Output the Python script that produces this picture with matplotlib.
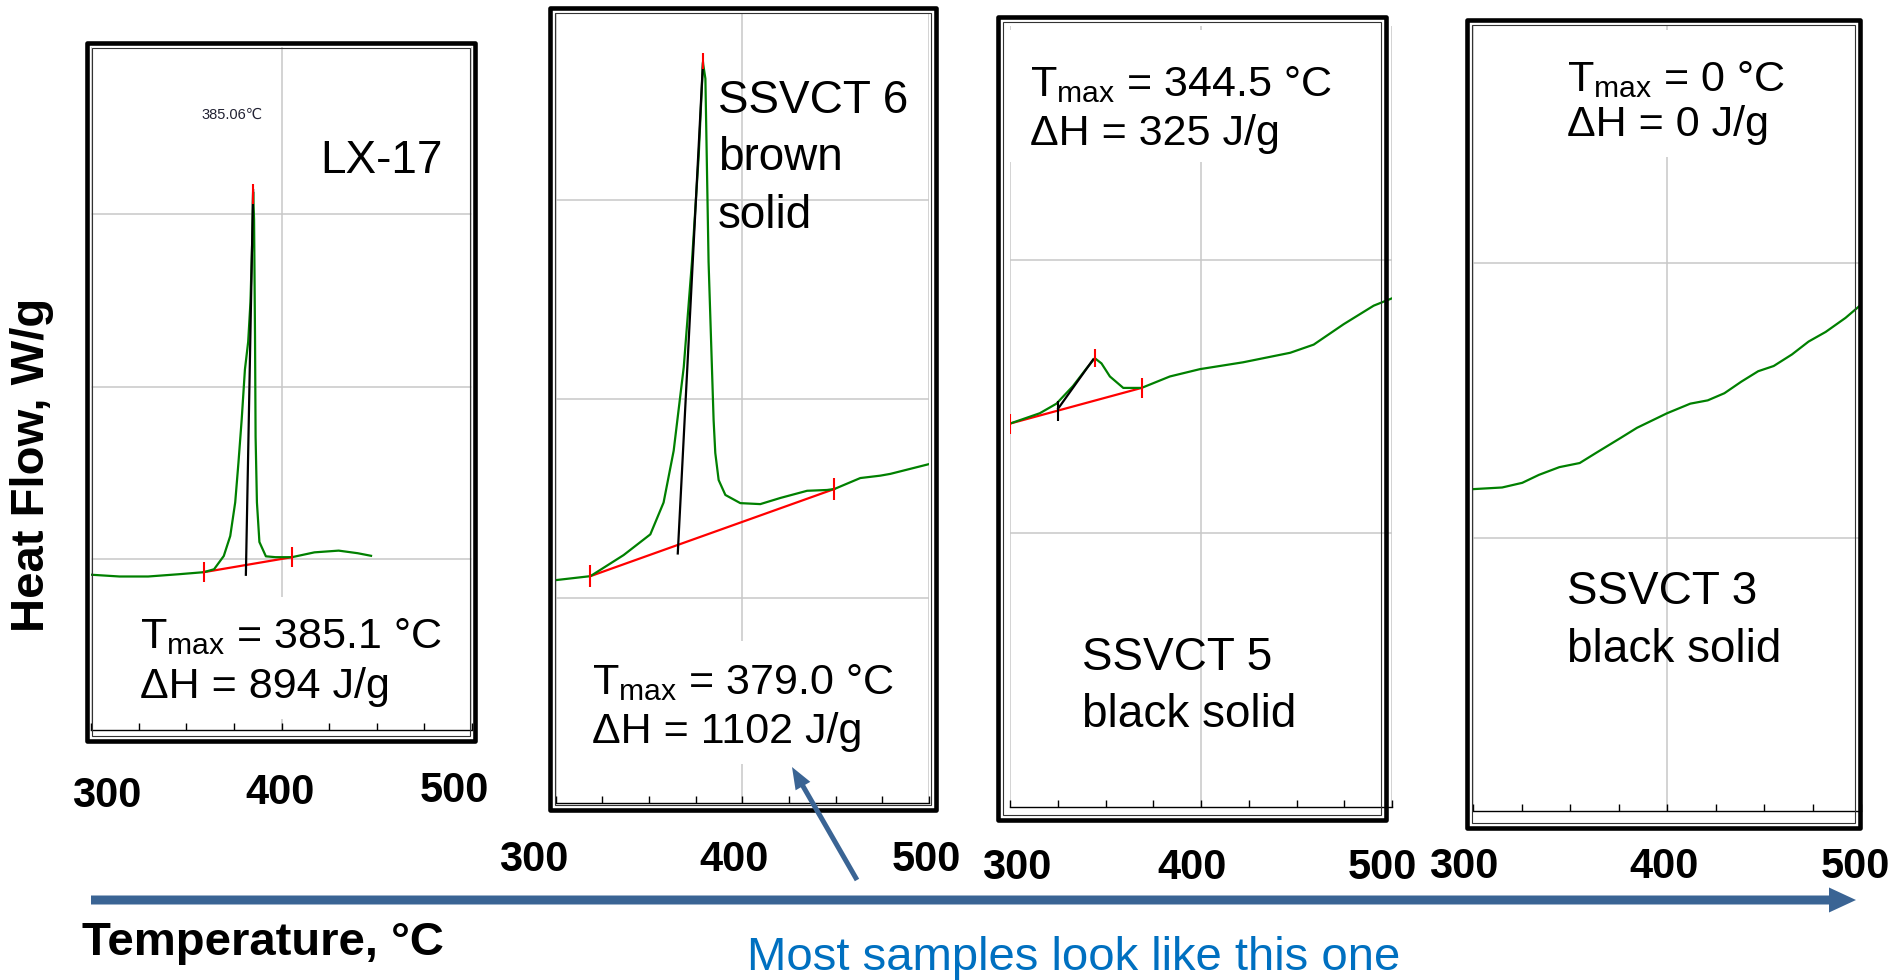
import numpy as np
import matplotlib
matplotlib.use("Agg")
import matplotlib.pyplot as plt
from matplotlib.patches import Rectangle, FancyArrow

plt.rcParams['font.family'] = ['Liberation Sans', 'DejaVu Sans']
plt.rcParams['mathtext.fontset'] = 'custom'
plt.rcParams['mathtext.rm'] = 'Liberation Sans'
plt.rcParams['mathtext.it'] = 'Liberation Sans:italic'
plt.rcParams['mathtext.bf'] = 'Liberation Sans:bold'

# ---------------- data ----------------
tick_labels = ['300', '400', '500']
grid_T = [300, 400, 500]
minor_T = [300, 325, 350, 375, 400, 425, 450, 475, 500]

# LX-17
lx17_T = [300.5, 315, 330, 345.9, 359.2, 364.6, 369.7, 373.1, 375.7, 377.4, 379.1,
          380.8, 382.5, 383.7, 384.7, 385.1, 385.6, 386.1, 386.4, 387.1, 388.4,
          391.8, 396.9, 405.5, 417.3, 430, 440, 447]
lx17_hf = [-0.09, -0.10, -0.10, -0.087, -0.075, -0.058, 0.019, 0.135, 0.33, 0.56, 0.81,
           1.10, 1.26, 1.49, 1.87, 2.13, 1.97, 1.29, 0.71, 0.33, 0.10,
           0.017, 0.012, 0.012, 0.04, 0.05, 0.035, 0.02]
lx17_base_T = [359.2, 405.5]
lx17_base_hf = [-0.075, 0.012]
lx17_tan_T = [381.3, 385.1]
lx17_tan_hf = [-0.09, 2.14]
lx17_peak_T = [385.1]
lx17_peak_hf = [2.12]

# SSVCT 6
s6_T = [300, 318.6, 336.4, 350.7, 357.8, 363.2, 368.6, 373.0, 376.6, 378.9, 380.2,
        381.9, 384.6, 385.5, 387.3, 390.9, 398.9, 409.6, 420.4, 434.7, 445.4,
        449.3, 463.2, 473.9, 479.3, 500]
s6_hf = [0.09, 0.11, 0.216, 0.32, 0.48, 0.74, 1.16, 1.69, 2.22, 2.69, 2.61,
         1.69, 0.894, 0.729, 0.593, 0.518, 0.477, 0.472, 0.503, 0.539, 0.543,
         0.548, 0.603, 0.615, 0.624, 0.673]
s6_base_T = [318.6, 449.3]
s6_base_hf = [0.11, 0.548]
s6_tan_T = [365.4, 378.9]
s6_tan_hf = [0.224, 2.69]
s6_peak_T = [378.9]
s6_peak_hf = [2.70]

# SSVCT 5
s5_T = [300, 315.6, 324.3, 333.0, 340.0, 344.4, 347.9, 352.3, 359.3, 368.9, 383.7,
        399.5, 422.0, 446.7, 459.0, 474.7, 490.4, 500]
s5_hf = [0.40, 0.438, 0.473, 0.538, 0.602, 0.64, 0.621, 0.573, 0.531, 0.531, 0.573,
         0.60, 0.625, 0.66, 0.69, 0.765, 0.833, 0.86]
s5_base_T = [300, 368.9]
s5_base_hf = [0.40, 0.531]
s5_tan_T = [325.2, 343.5]
s5_tan_hf = [0.455, 0.635]
s5_peak_T = [344.4]
s5_peak_hf = [0.64]
s5_onset_T = [325.2]
s5_onset_hf = [0.448]

# SSVCT 3
s3_T = [300, 315, 325.4, 334, 344.5, 355, 363.7, 375.8, 384.5, 400, 412, 421, 429.6,
        438.3, 447, 455, 464.4, 473, 481.8, 492, 500]
s3_hf = [0.177, 0.183, 0.2, 0.229, 0.257, 0.272, 0.31, 0.362, 0.4, 0.453, 0.488, 0.5,
         0.526, 0.568, 0.606, 0.625, 0.667, 0.714, 0.749, 0.8, 0.848]

tmax_vals = ['385.1', '379.0', '344.5', '0']
dh_vals = ['894', '1102', '325', '0']
sample_names = ['LX-17', 'SSVCT 6\nbrown\nsolid', 'SSVCT 5\nblack solid', 'SSVCT 3\nblack solid']

# ---------------- figure ----------------
W, H = 1895, 980
fig = plt.figure(figsize=(W / 100, H / 100), dpi=100)
fig.patch.set_facecolor('white')

GREEN = '#008000'
RED = '#ff0000'
GRID = '#c8c8c8'
ARROW = '#3a6494'


def add_panel(left, right, top, bottom, xlim, ylim, grid_hf):
    ax = fig.add_axes([left / W, 1 - bottom / H, (right - left) / W, (bottom - top) / H])
    ax.set_xlim(*xlim)
    ax.set_ylim(*ylim)
    for s in ['left', 'right', 'top']:
        ax.spines[s].set_visible(False)
    ax.spines['bottom'].set_linewidth(1.0)
    ax.set_xticks(minor_T)
    ax.set_xticklabels([])
    ax.set_yticks([])
    ax.tick_params(axis='x', direction='in', length=5, width=1.0, color='black')
    for g in grid_hf:
        ax.axhline(g, color=GRID, lw=1.1, zorder=0)
    for g in grid_T:
        ax.axvline(g, color=GRID, lw=1.1, zorder=0)
    ax.patch.set_alpha(0)
    return ax


ax1 = add_panel(91, 472, 47, 730, (300, 494.4), (-0.99, 2.97), [0, 1, 2])
ax2 = add_panel(555.7, 929, 13, 803, (300, 500), (-1.03, 2.94), [0, 1, 2])
ax3 = add_panel(1010, 1392, 26, 807, (300, 500), (-1.008, 1.86), [0, 1])
ax4 = add_panel(1473, 1861, 26, 811, (300, 500), (-0.994, 1.862), [0, 1])

lw = 1.6
# LX-17
ax1.plot(lx17_base_T, lx17_base_hf, color=RED, lw=lw)
ax1.plot(lx17_T, lx17_hf, color=GREEN, lw=lw)
ax1.plot(lx17_tan_T, lx17_tan_hf, color='black', lw=lw)
ax1.plot(lx17_base_T, lx17_base_hf, ls='none', marker='|', ms=14, mew=1.5, color=RED)
ax1.plot(lx17_peak_T, lx17_peak_hf, ls='none', marker='|', ms=14, mew=1.5, color=RED)
# SSVCT 6
ax2.plot(s6_base_T, s6_base_hf, color=RED, lw=lw)
ax2.plot(s6_T, s6_hf, color=GREEN, lw=lw)
ax2.plot(s6_tan_T, s6_tan_hf, color='black', lw=lw)
ax2.plot(s6_base_T, s6_base_hf, ls='none', marker='|', ms=16, mew=1.5, color=RED)
ax2.plot(s6_peak_T, s6_peak_hf, ls='none', marker='|', ms=12, mew=1.5, color=RED)
# SSVCT 5
ax3.plot(s5_base_T, s5_base_hf, color=RED, lw=lw)
ax3.plot(s5_T, s5_hf, color=GREEN, lw=lw)
ax3.plot(s5_tan_T, s5_tan_hf, color='black', lw=lw)
ax3.plot(s5_base_T, s5_base_hf, ls='none', marker='|', ms=15, mew=1.5, color=RED)
ax3.plot(s5_peak_T, s5_peak_hf, ls='none', marker='|', ms=13, mew=1.5, color=RED)
ax3.plot(s5_onset_T, s5_onset_hf, ls='none', marker='|', ms=15, mew=1.5, color='black')
# SSVCT 3
ax4.plot(s3_T, s3_hf, color=GREEN, lw=lw)

# ---------------- overlay in pixel coordinates ----------------
ov = fig.add_axes([0, 0, 1, 1], zorder=10)
ov.set_xlim(0, W)
ov.set_ylim(H, 0)
ov.axis('off')
ov.patch.set_visible(False)

# white text-box backgrounds
for (x0, y0, x1, y1) in [(130, 597, 445, 719), (585, 641, 905, 764),
                         (1006, 30, 1382, 162), (1478, 30, 1856, 157)]:
    ov.add_patch(Rectangle((x0, y0), x1 - x0, y1 - y0, fc='white', ec='none', zorder=1))

# frames
for (x0, y0, x1, y1) in [(85, 41, 477, 743), (548, 6, 938, 812),
                         (996, 15, 1388, 822), (1465, 18, 1862, 830)]:
    ov.add_patch(Rectangle((x0 + 2.2, y0 + 2.2), x1 - x0 - 4.4, y1 - y0 - 4.4, fill=False,
                           ec='black', lw=3.3, joinstyle='round', zorder=5))
    ov.add_patch(Rectangle((x0 + 7, y0 + 7), x1 - x0 - 14, y1 - y0 - 14, fill=False,
                           ec='#333333', lw=0.8, zorder=5))

FS = 31
NS = 33
# annotations
ov.text(232, 115, '385.06\u2103', fontsize=10.5, ha='center', va='center', color='#222233', zorder=6)
ov.text(320, 173, sample_names[0], fontsize=NS, ha='left', va='baseline', zorder=6)

tm_pos = [(140, 648, 698), (592, 694, 743), (1030, 96, 145), (1567, 91, 136)]
for (x, b1, b2), t, d in zip(tm_pos, tmax_vals, dh_vals):
    ov.text(x, b1, r'T$_{\mathrm{max}}$ = ' + t + ' \u00b0C', fontsize=FS, ha='left',
            va='baseline', zorder=6)
    ov.text(x, b2, '\u0394H = ' + d + ' J/g', fontsize=FS, ha='left', va='baseline', zorder=6)

name_pos = [None, (718, [113, 170, 228]), (1082, [670, 727]), (1567, [604, 662])]
for i in range(1, 4):
    x, bls = name_pos[i]
    for line, b in zip(sample_names[i].split('\n'), bls):
        ov.text(x, b, line, fontsize=NS, ha='left', va='baseline', zorder=6)

# tick labels
tl_pos = [[(107, 796), (280, 793), (454, 791)],
          [(534, 860), (734, 860), (926, 860)],
          [(1017, 868), (1192, 868), (1382, 868)],
          [(1464, 867), (1664, 867), (1855, 867)]]
for row in tl_pos:
    for (x, y), lab in zip(row, tick_labels):
        ov.text(x, y, lab, fontsize=30, fontweight='bold', ha='center', va='center', zorder=6)

# axis titles
ov.text(32, 465, 'Heat Flow, W/g', fontsize=34, fontweight='bold', rotation=90,
        ha='center', va='center', zorder=6)
ov.text(82, 955, 'Temperature, \u00b0C', fontsize=34, fontweight='bold', ha='left',
        va='baseline', zorder=6)
ov.text(747, 970, 'Most samples look like this one', fontsize=34, color='#0070c0',
        ha='left', va='baseline', zorder=6)

# arrows
ov.add_patch(FancyArrow(91, 900, 1856 - 91, 0, width=9, head_width=25, head_length=27,
                        length_includes_head=True, color=ARROW, lw=0, zorder=6))
ov.add_patch(FancyArrow(857, 880, 792 - 857, 767 - 880, width=5, head_width=17,
                        head_length=22, length_includes_head=True, color=ARROW, lw=0, zorder=6))

fig.savefig('out.png', dpi=100, facecolor='white')
